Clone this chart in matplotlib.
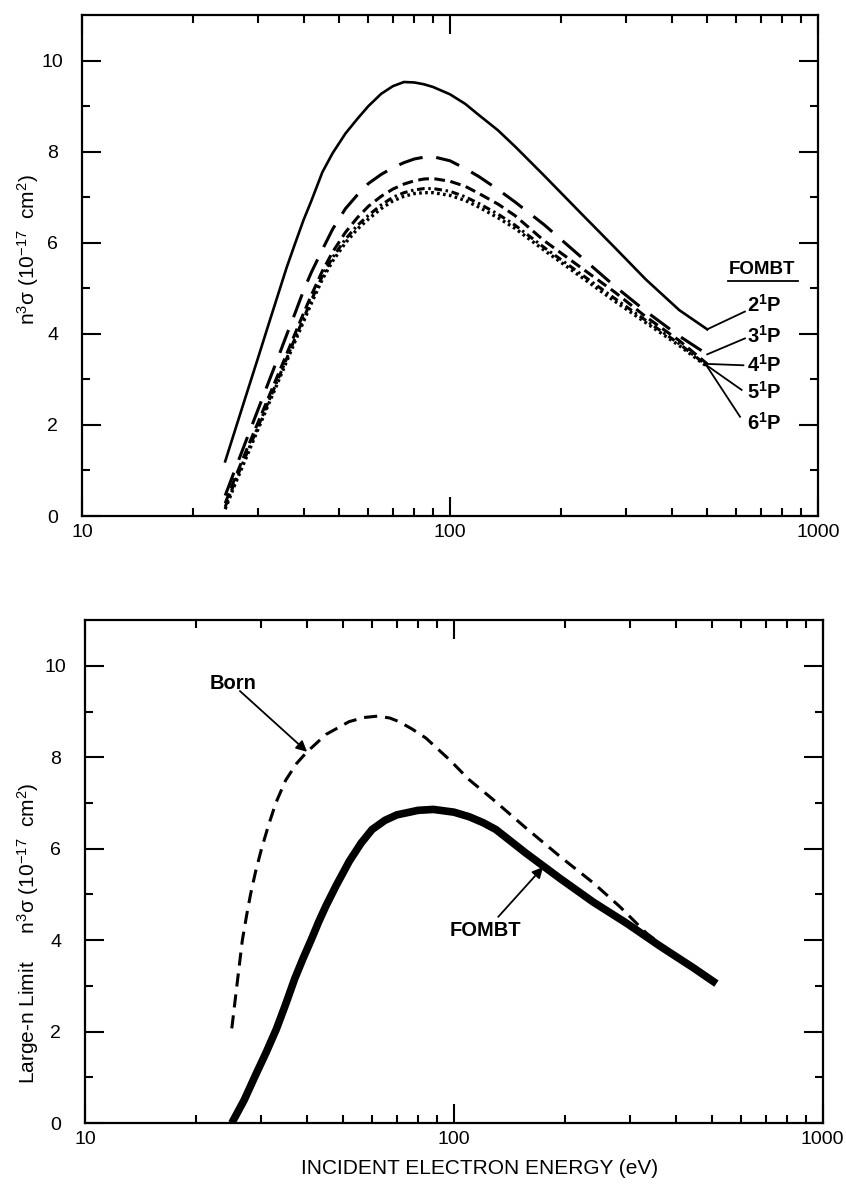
import matplotlib
matplotlib.use("Agg")
import matplotlib.pyplot as plt
from matplotlib.ticker import FixedLocator, NullFormatter

plt.rcParams['font.family'] = ['Liberation Sans', 'DejaVu Sans']
plt.rcParams['mathtext.fontset'] = 'custom'
plt.rcParams['mathtext.rm'] = 'Liberation Sans'
plt.rcParams['mathtext.bf'] = 'Liberation Sans:bold'
plt.rcParams['mathtext.it'] = 'Liberation Sans:italic'

# ---- top panel: FOMBT n^3 sigma for n = 2..6 ----
energy_top = [24.5, 26, 28, 30, 32, 34, 36, 38, 40, 42, 45, 48, 52, 56, 60, 65,
              70, 75, 80, 85, 90, 100, 110, 120, 135, 150, 180, 230, 280, 340,
              420, 500]
sig_2p = [1.2, 1.86, 2.68, 3.44, 4.16, 4.83, 5.46, 6.0, 6.5, 6.92, 7.55, 7.97,
          8.4, 8.72, 9.0, 9.27, 9.44, 9.53, 9.52, 9.48, 9.42, 9.26, 9.05, 8.8,
          8.47, 8.12, 7.48, 6.6, 5.9, 5.2, 4.52, 4.1]
sig_3p = [0.45, 1.0, 1.68, 2.31, 2.9, 3.45, 3.98, 4.47, 4.95, 5.35, 5.85, 6.3,
          6.75, 7.05, 7.3, 7.5, 7.65, 7.76, 7.84, 7.88, 7.89, 7.8, 7.63, 7.45,
          7.17, 6.9, 6.4, 5.65, 5.05, 4.5, 3.95, 3.55]
sig_4p = [0.28, 0.82, 1.45, 2.03, 2.57, 3.08, 3.56, 4.02, 4.45, 4.85, 5.38, 5.8,
          6.23, 6.55, 6.8, 7.02, 7.18, 7.29, 7.36, 7.4, 7.41, 7.35, 7.24, 7.08,
          6.85, 6.6, 6.05, 5.42, 4.92, 4.38, 3.85, 3.34]
sig_5p = [0.2, 0.74, 1.36, 1.94, 2.48, 2.98, 3.46, 3.92, 4.34, 4.74, 5.27, 5.68,
          6.08, 6.38, 6.6, 6.83, 7.0, 7.1, 7.16, 7.19, 7.19, 7.13, 7.01, 6.86,
          6.63, 6.39, 5.9, 5.28, 4.78, 4.3, 3.78, 3.3]
sig_6p = [0.15, 0.68, 1.3, 1.88, 2.42, 2.92, 3.4, 3.85, 4.27, 4.67, 5.2, 5.6,
          6.0, 6.3, 6.52, 6.75, 6.92, 7.02, 7.08, 7.1, 7.1, 7.04, 6.93, 6.78,
          6.55, 6.32, 5.84, 5.22, 4.72, 4.25, 3.74, 3.28]

# ---- bottom panel: large-n limit ----
energy_fombt = [25, 27, 29, 31, 33, 35, 37, 39, 41, 43, 45, 48, 52, 56, 60, 65,
                70, 80, 88, 100, 110, 120, 130, 157, 194, 239, 294, 362, 445, 515]
sig_fombt = [0.0, 0.5, 1.05, 1.55, 2.05, 2.6, 3.15, 3.6, 4.0, 4.4, 4.75, 5.2,
             5.72, 6.12, 6.42, 6.62, 6.74, 6.84, 6.86, 6.8, 6.7, 6.57, 6.42,
             5.9, 5.35, 4.83, 4.37, 3.87, 3.4, 3.05]
energy_born = [25, 25.8, 26.7, 27.5, 28.1, 29, 30.1, 31.4, 32.9, 35, 37.5, 40,
               45, 52, 57, 62, 67, 71, 77, 84, 97.5, 110, 128, 157, 194, 239,
               282, 333, 380]
sig_born = [2.07, 3.0, 4.0, 4.6, 5.0, 5.5, 6.0, 6.5, 7.0, 7.5, 7.87, 8.12, 8.5,
            8.78, 8.87, 8.9, 8.86, 8.78, 8.62, 8.42, 7.94, 7.51, 7.07, 6.45,
            5.83, 5.25, 4.73, 4.15, 3.8]

state_labels = [r'2$^{\mathbf{1}}$P', r'3$^{\mathbf{1}}$P', r'4$^{\mathbf{1}}$P',
                r'5$^{\mathbf{1}}$P', r'6$^{\mathbf{1}}$P']
xtick_vals = [10, 100, 1000]
xtick_text = ['10', '100', '1000']
ytick_vals = [0, 2, 4, 6, 8, 10]


def style_axes(ax):
    ax.set_xscale('log')
    ax.set_xlim(10, 1000)
    ax.set_ylim(0, 11)
    ax.xaxis.set_major_locator(FixedLocator(xtick_vals))
    ax.set_xticklabels(xtick_text)
    minors = [m * d for d in (10, 100) for m in range(2, 10)]
    ax.xaxis.set_minor_locator(FixedLocator(minors))
    ax.xaxis.set_minor_formatter(NullFormatter())
    ax.yaxis.set_major_locator(FixedLocator(ytick_vals))
    ax.yaxis.set_minor_locator(FixedLocator([1, 3, 5, 7, 9]))
    ax.tick_params(which='both', direction='in', top=True, right=True,
                   width=1.5, labelsize=14)
    ax.tick_params(which='major', length=14)
    ax.tick_params(which='minor', length=6)
    ax.tick_params(axis='x', which='major', pad=6)
    ax.tick_params(axis='y', which='major', pad=21)
    for lab in ax.get_yticklabels():
        lab.set_horizontalalignment('center')
    for s in ax.spines.values():
        s.set_linewidth(1.6)


fig = plt.figure(figsize=(8.46, 11.86), dpi=100)
ax1 = fig.add_axes([0.0969, 0.5649, 0.870, 0.4224])
ax2 = fig.add_axes([0.1005, 0.0531, 0.872, 0.424])

# top panel curves
ax1.plot(energy_top, sig_2p, color='black', lw=1.9, ls='-')
ax1.plot(energy_top, sig_3p, color='black', lw=2.2, ls=(0, (8, 4.5)))
ax1.plot(energy_top, sig_4p, color='black', lw=2.2, ls=(0, (3.5, 1.8)))
ax1.plot(energy_top, sig_5p, color='black', lw=2.2, ls=(0, (2.5, 1.2, 0.8, 1.2)))
ax1.plot(energy_top, sig_6p, color='black', lw=2.4, ls=(0, (0.8, 1.0)))

# leader lines to the state labels
curves = [sig_2p, sig_3p, sig_4p, sig_5p, sig_6p]
label_ends = [(633, 4.49), (633, 3.90), (627, 3.31), (620, 2.77), (614, 2.18)]
label_y = [4.63, 3.95, 3.31, 2.73, 2.04]
for c, (lx, ly), ty, txt in zip(curves, label_ends, label_y, state_labels):
    ax1.plot([energy_top[-1], lx], [c[-1], ly], color='black', lw=1.3)
    ax1.text(640, ty, txt, fontsize=14.5, fontweight='bold', ha='left', va='center')
ax1.text(705, 5.42, 'FOMBT', fontsize=13.5, fontweight='bold', ha='center', va='center')
ax1.plot([568, 880], [5.16, 5.16], color='black', lw=1.3)

# bottom panel curves
ax2.plot(energy_born, sig_born, color='black', lw=2.2, ls=(0, (4.3, 2.6)))
ax2.plot(energy_fombt, sig_fombt, color='black', lw=5.5, solid_capstyle='butt',
         solid_joinstyle='round')

ax2.text(21.8, 9.62, 'Born', fontsize=14.5, fontweight='bold', ha='left', va='center')
ax2.annotate('', xy=(energy_born[11], sig_born[11]), xytext=(26.3, 9.45),
             arrowprops=dict(arrowstyle='-|>', color='black', lw=1.3,
                             mutation_scale=16, shrinkA=0, shrinkB=0))
ax2.text(97.5, 4.22, 'FOMBT', fontsize=14.5, fontweight='bold', ha='left', va='center')
ax2.annotate('', xy=(174.6, 5.6), xytext=(131.9, 4.51),
             arrowprops=dict(arrowstyle='-|>', color='black', lw=1.3,
                             mutation_scale=16, shrinkA=0, shrinkB=0))

style_axes(ax1)
style_axes(ax2)

fig.text(28 / 846, 1 - 250 / 1186, r'n$^3$σ (10$^{-17}$  cm$^2$)', rotation=90,
         fontsize=15, ha='center', va='center')
fig.text(28 / 846, 1 - 933 / 1186,
         r'Large-n Limit     n$^3$σ (10$^{-17}$  cm$^2$)', rotation=90,
         fontsize=15, ha='center', va='center')
fig.text(480 / 846, 1 - 1168 / 1186, 'INCIDENT ELECTRON ENERGY (eV)',
         fontsize=15, ha='center', va='center')

fig.savefig('out.png', dpi=100)
